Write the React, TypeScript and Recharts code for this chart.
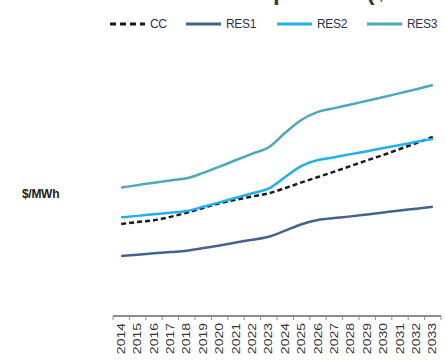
import { LineChart, Line, XAxis, YAxis } from 'recharts'

const YEARS = [
  '2014', '2015', '2016', '2017', '2018', '2019', '2020', '2021', '2022', '2023',
  '2024', '2025', '2026', '2027', '2028', '2029', '2030', '2031', '2032', '2033',
]

const CC = [37.4, 38.2, 38.9, 40.3, 42.0, 43.9, 45.8, 47.3, 48.6, 49.9, 52.0, 54.3, 56.5, 58.7, 61.0, 63.3, 65.5, 67.9, 70.3, 72.8]
const RES1 = [24.4, 24.9, 25.5, 26.0, 26.5, 27.6, 28.7, 29.9, 31.0, 32.2, 34.7, 37.3, 39.0, 39.8, 40.5, 41.3, 42.1, 42.9, 43.6, 44.4]
const RES2 = [40.1, 40.7, 41.4, 42.0, 42.7, 44.4, 46.2, 48.1, 49.9, 51.9, 56.5, 61.0, 63.4, 64.5, 65.8, 67.0, 68.3, 69.5, 70.8, 72.0]
const RES3 = [52.2, 53.2, 54.2, 55.1, 56.0, 58.2, 60.7, 63.4, 66.0, 68.6, 74.5, 79.8, 83.0, 84.5, 86.0, 87.5, 89.0, 90.6, 92.2, 93.9]

const data = YEARS.map((year, i) => ({
  year,
  CC: CC[i],
  RES1: RES1[i],
  RES2: RES2[i],
  RES3: RES3[i],
}))

const AXIS_GREY = '#8c8c8c'
const BAND = 16.4

const SERIES = [
  { key: 'CC', color: '#1a1a1a', dash: '5 3' },
  { key: 'RES1', color: '#44628f', dash: undefined },
  { key: 'RES2', color: '#1fb0ee', dash: undefined },
  { key: 'RES3', color: '#4aa9bc', dash: undefined },
]

// category boundaries get the tick marks, labels sit between them
function YearTick(props: any) {
  const { x, y, payload, index } = props
  const isLast = index === YEARS.length - 1
  return (
    <g>
      <line x1={x - BAND / 2} x2={x - BAND / 2} y1={y - 8} y2={y - 4} stroke={AXIS_GREY} strokeWidth={1} />
      {isLast && (
        <line x1={x + BAND / 2} x2={x + BAND / 2} y1={y - 8} y2={y - 4} stroke={AXIS_GREY} strokeWidth={1} />
      )}
      <text
        transform={`translate(${x + 3.5},${y - 1}) rotate(-90) scale(1.4,1)`}
        textAnchor="end"
        fontSize={10}
        fontFamily="Liberation Sans, Arial, sans-serif"
        fill="#333"
      >
        {payload.value}
      </text>
    </g>
  )
}

function LegendItem({ label, color, dash, left }: { label: string; color: string; dash?: string; left: number }) {
  return (
    <div style={{ position: 'absolute', left, top: 17, display: 'flex', alignItems: 'center' }}>
      <svg width={38} height={14}>
        <line x1={1} x2={36} y1={7} y2={7} stroke={color} strokeWidth={3} strokeDasharray={dash} />
      </svg>
      <span style={{ fontSize: 12, color: '#2e3050', marginLeft: 3, letterSpacing: -0.3 }}>{label}</span>
    </div>
  )
}

export default function App() {
  return (
    <div
      style={{
        position: 'fixed',
        left: 0,
        top: 0,
        width: 445,
        height: 360,
        background: '#fff',
        overflow: 'hidden',
        fontFamily: 'Liberation Sans, Arial, sans-serif',
      }}
    >
      <div
        style={{
          position: 'absolute',
          left: 85,
          top: -20,
          fontSize: 24,
          fontWeight: 'bold',
          color: '#3a3a3a',
          whiteSpace: 'nowrap',
          lineHeight: '24px',
        }}
      >
        Residential Comparison ($/MWh)
      </div>

      <LegendItem label="CC" color={SERIES[0].color} dash="6 4" left={109} />
      <LegendItem label="RES1" color={SERIES[1].color} left={185} />
      <LegendItem label="RES2" color={SERIES[2].color} left={276} />
      <LegendItem label="RES3" color={SERIES[3].color} left={366} />

      <div
        style={{
          position: 'absolute',
          left: 22,
          top: 187,
          fontSize: 12,
          fontWeight: 'bold',
          color: '#222',
          letterSpacing: -0.3,
        }}
      >
        $/MWh
      </div>

      <LineChart width={445} height={360} data={data} margin={{ top: 70, right: 4, bottom: 0, left: 113 }}>
        <XAxis
          dataKey="year"
          height={44}
          interval={0}
          padding={{ left: BAND / 2, right: BAND / 2 }}
          axisLine={{ stroke: AXIS_GREY, strokeWidth: 2 }}
          tickLine={false}
          tick={<YearTick />}
        />
        <YAxis
          width={0}
          domain={[0, 100]}
          tick={false}
          tickLine={false}
          axisLine={{ stroke: AXIS_GREY, strokeWidth: 2 }}
        />
        {SERIES.map((s) => (
          <Line
            key={s.key}
            type="monotone"
            dataKey={s.key}
            stroke={s.color}
            strokeWidth={2.5}
            strokeDasharray={s.dash}
            dot={false}
            isAnimationActive={false}
          />
        ))}
      </LineChart>
    </div>
  )
}
